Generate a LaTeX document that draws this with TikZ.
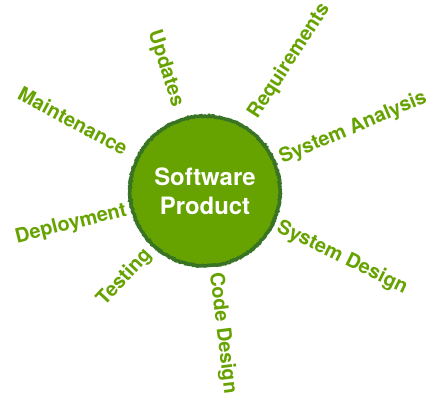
\documentclass[tikz,border=0pt]{standalone}
\usepackage{fontspec}
\setmainfont{TeX Gyre Heros}
\definecolor{swgreen}{RGB}{102,162,0}
\definecolor{swdark}{RGB}{56,116,36}
\usetikzlibrary{positioning,decorations.pathmorphing}

\begin{document}
\begin{tikzpicture}[x=1bp,y=1bp,
    phase/.style={font=\bfseries\fontsize{20}{24}\selectfont, text=swgreen, inner sep=2bp}]
    \useasboundingbox (0,0) rectangle (440,400);
    % Central product
    \node[circle, fill=swgreen, draw=swdark, line width=3.5bp, minimum size=150bp, inner sep=0pt,
          decorate, decoration={random steps, segment length=1.2bp, amplitude=0.6bp},
          align=center, text=white, font=\bfseries\fontsize{24}{29}\selectfont] (prod) at (205,209) {Software\\Product};

    % Right side phases
    \foreach \ang/\rad/\txt [count=\i] in {57/86/Requirements, 23/80/System Analysis, -26/79/System Design, -83/80/Code Design} {
        \node[phase, anchor=west, rotate=\ang] (r\i) at ([shift={(\ang:\rad)}]prod.center) {\txt};
    }
    % Left side phases
    \foreach \ang/\rad/\txt [count=\i] in {227/81/Testing, 194/79/Deployment, 152/87/Maintenance, 108/87/Updates} {
        \pgfmathsetmacro{\rot}{\ang-180}
        \node[phase, anchor=east, rotate=\rot] (l\i) at ([shift={(\ang:\rad)}]prod.center) {\txt};
    }
\end{tikzpicture}
\end{document}
